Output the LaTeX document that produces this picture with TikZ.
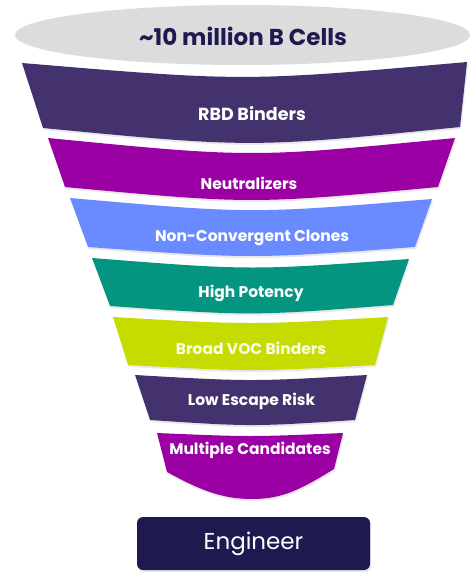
\documentclass[tikz,border=0pt]{standalone}
\usepackage{fontspec}
\setmainfont{Poppins}
\usepackage{xcolor}
\usepackage{tikz}
\usetikzlibrary{shadows}

\definecolor{cellgray}{HTML}{DCDCDC}
\definecolor{deeppurple}{HTML}{43326E}
\definecolor{plum}{HTML}{9A00A3}
\definecolor{cornflower}{HTML}{6A8BFF}
\definecolor{seateal}{HTML}{03957F}
\definecolor{chartreuse}{HTML}{C6DC00}
\definecolor{inkblue}{HTML}{1E1A50}

\begin{document}
\begin{tikzpicture}[x=1pt, y=-1pt,
    band/.style={drop shadow={opacity=0.18, shadow xshift=1pt, shadow yshift=-2pt}},
    lbl/.style={text=white, font=\fontsize{15.5}{18}\selectfont\bfseries}]
            \useasboundingbox[fill=white] (0,0) rectangle (472,572);
            \fill[cellgray] (242.5,35) ellipse [x radius=227.5pt, y radius=30pt];
            \node[text=inkblue, font=\fontsize{23}{26}\selectfont\bfseries] (cells) at (243,36) {\textasciitilde10 million B Cells};
            \fill[band, deeppurple] (22,63) .. controls (244.5,81.7) .. (467,62) -- (460,127) .. controls (251.5,148) .. (43,128) -- cycle;
            \fill[band, plum] (48,138) .. controls (251.5,158) .. (455,138) -- (438,187) .. controls (251.5,204.3) .. (65,187) -- cycle;
            \fill[band, cornflower] (70,198) .. controls (251,214) .. (432,199) -- (415,247) .. controls (251.5,259) .. (88,247) -- cycle;
            \fill[band, seateal] (92,258) .. controls (250.5,270.5) .. (409,259) -- (393,305) .. controls (251.5,316) .. (110,306) -- cycle;
            \fill[band, chartreuse] (113,317) .. controls (250.5,325) .. (388,317) -- (375,365) .. controls (251.5,371.7) .. (128,365) -- cycle;
            \fill[band, deeppurple] (135,375) .. controls (251,381.7) .. (367,375) -- (355,420) .. controls (251.5,426.7) .. (150,420) -- cycle;
            \fill[band, plum] (157,433) .. controls (250,437) .. (343,433) -- (334,469) .. controls (300,490) and (282,499) .. (252,499) .. controls (222,499) and (200,490) .. (167,472) -- cycle;
            \node[lbl, font=\fontsize{17.5}{20}\selectfont\bfseries] (rbd) at (252,114) {RBD Binders};
            \node[lbl] (neut) at (249,183) {Neutralizers};
            \node[lbl] (nonconv) at (252,238) {Non-Convergent Clones};
            \node[lbl] (potency) at (251,293) {High Potency};
            \node[lbl, text=white!92!chartreuse] (voc) at (251,348) {Broad VOC Binders};
            \node[lbl] (escape) at (251.5,401) {Low Escape Risk};
            \node[lbl] (cand) at (250,450) {Multiple Candidates};
            \node[band, fill=inkblue, rounded corners=6pt, minimum width=233pt, minimum height=53pt, text=white, font=\fontsize{23}{25}\selectfont] (engineer) at (253.5,543.5) {Engineer};
        \end{tikzpicture}
\end{document}
